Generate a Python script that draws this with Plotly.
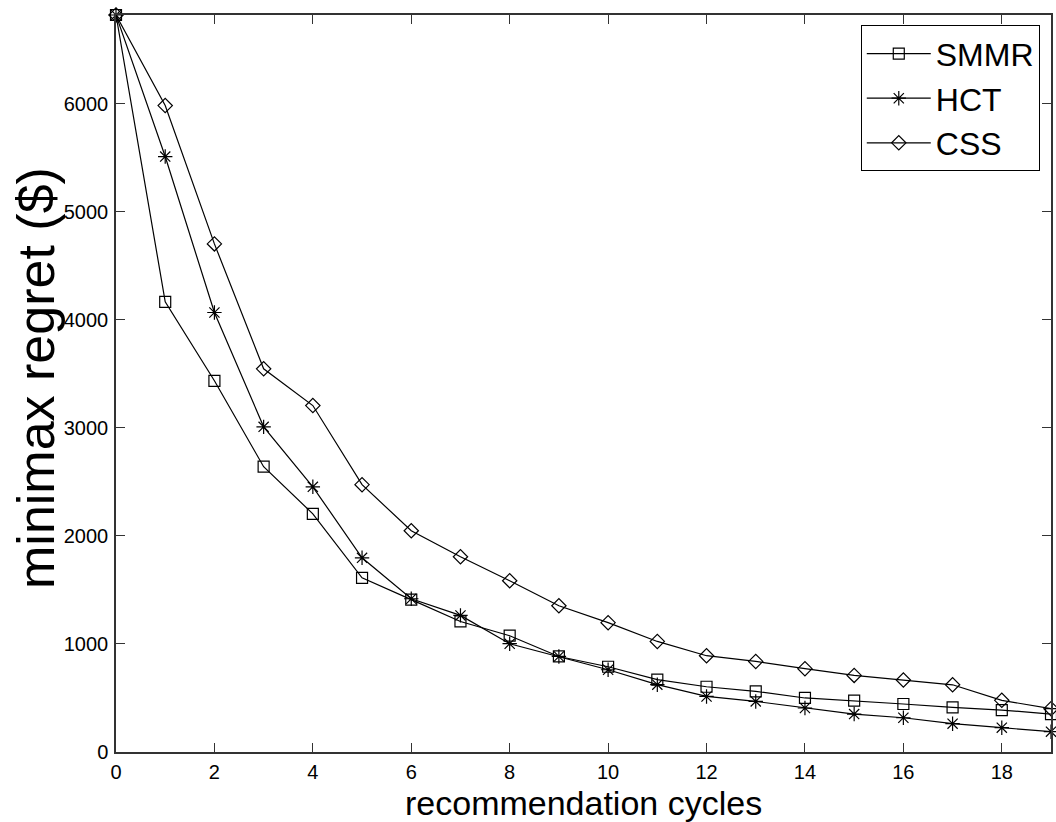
import plotly.graph_objects as go

# Recommendation cycle index
cycles = list(range(20))

# Minimax regret ($) per cycle for each elicitation strategy
smmr = [6820, 4166, 3435, 2640, 2204, 1612, 1410, 1208, 1076, 884,
        789, 669, 604, 561, 500, 475, 444, 413, 388, 351]
hct = [6820, 5510, 4067, 3009, 2454, 1797, 1418, 1264, 1002, 884,
       761, 623, 514, 468, 407, 351, 317, 262, 225, 188]
css = [6820, 5982, 4702, 3546, 3206, 2474, 2047, 1807, 1585, 1353,
       1197, 1023, 891, 838, 771, 709, 666, 622, 478, 401]

x_ticks = [0, 2, 4, 6, 8, 10, 12, 14, 16, 18]
y_ticks = [0, 1000, 2000, 3000, 4000, 5000, 6000]

FONT = "Liberation Sans, Arial, Helvetica, sans-serif"

series = [
    ("SMMR", smmr, "square-open", 11),
    ("HCT", hct, "asterisk-open", 12),
    ("CSS", css, "diamond-open", 11),
]

fig = go.Figure()
for name, vals, sym, size in series:
    fig.add_trace(go.Scatter(
        x=cycles, y=vals, name=name, mode="lines+markers",
        line=dict(color="black", width=1.2),
        marker=dict(symbol=sym, size=size, color="black",
                    line=dict(color="black", width=1.2)),
        cliponaxis=False,
    ))

axis_common = dict(
    showgrid=False, zeroline=False, showline=True, mirror="ticks",
    linecolor="#333333", linewidth=1.5,
    ticks="inside", ticklen=9, tickwidth=1, tickcolor="#333333",
    tickfont=dict(family=FONT, size=20, color="black"),
)

fig.update_layout(
    width=1056, height=822,
    margin=dict(l=116, r=3, t=15, b=70),
    paper_bgcolor="white", plot_bgcolor="white",
    font=dict(family=FONT, color="black"),
    showlegend=True,
    legend=dict(
        x=0.988, y=0.986, xanchor="right", yanchor="top",
        bgcolor="white", bordercolor="black", borderwidth=1,
        font=dict(family=FONT, size=32, color="black"),
        itemwidth=64,
    ),
    xaxis=dict(range=[0, 19], tickvals=x_ticks, ticklabelstandoff=1,
               **axis_common),
    yaxis=dict(range=[0, 6820], tickvals=y_ticks, ticklabelstandoff=2,
               **axis_common),
    annotations=[
        dict(text="recommendation cycles", xref="paper", yref="paper",
             x=0.5, y=0, yshift=-51, xanchor="center", yanchor="middle",
             showarrow=False, font=dict(family=FONT, size=34, color="black")),
        dict(text="minimax regret ($)", xref="paper", yref="paper",
             x=0, xshift=-80, y=0.5075, xanchor="center", yanchor="middle",
             textangle=-90, showarrow=False,
             font=dict(family=FONT, size=52, color="black")),
    ],
)

fig.write_html("out.html")
